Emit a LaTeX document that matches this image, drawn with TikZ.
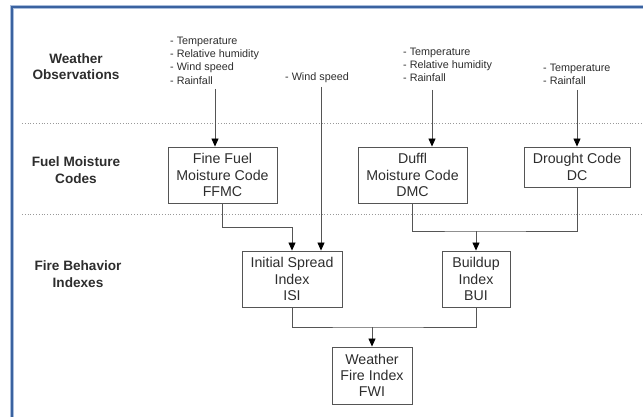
\documentclass[tikz,border=0pt]{standalone}
\usepackage{fontspec}
\setmainfont{Liberation Sans}
\usepackage{tikz}
\usetikzlibrary{arrows.meta}
\definecolor{framecol}{RGB}{58,98,160}
\definecolor{framelight}{RGB}{170,190,220}
\definecolor{txtcol}{RGB}{45,45,45}
\definecolor{linecol}{RGB}{85,85,85}

\tikzset{
  code/.style={draw=linecol, line width=0.9pt, align=center, inner sep=0pt,
    text=txtcol, font=\fontsize{14.2}{16.3}\selectfont},
  level/.style={align=center, text=txtcol, font=\fontsize{13.6}{16.5}\selectfont\bfseries},
  obs/.style={align=left, anchor=west, inner sep=0pt, text=txtcol,
    font=\fontsize{10.8}{13.3}\selectfont},
  link/.style={draw=linecol, line width=0.8pt},
  sep/.style={draw=gray!80, line width=0.8pt, dotted}
}

\begin{document}
\begin{tikzpicture}[x=1pt,y=-1pt,>={Triangle[width=7pt,length=8pt,color=black]}]
      \useasboundingbox (0,0) rectangle (643,417);
      % frame
      \draw[framelight, line width=3.2pt] (12,420) -- (12,7) -- (646,7);
      \draw[framecol, line width=1.8pt] (12,420) -- (12,7) -- (646,7);
      \draw[sep] (22,123) -- (643,123);
      \draw[sep] (22,214) -- (643,214);
      % rows
      \node[level] (lw) at (76,66.5) {Weather\\Observations};
      \node[level] (lf) at (76,170) {Fuel Moisture\\Codes};
      \node[level] (lb) at (78,274) {Fire Behavior\\Indexes};
      % inputs
      \node[obs] (in1) at (170,60.5) {- Temperature\\- Relative humidity\\- Wind speed\\- Rainfall};
      \node[obs] (in2) at (285,78) {- Wind speed};
      \node[obs] (in3) at (403,65) {- Temperature\\- Relative humidity\\- Rainfall};
      \node[obs] (in4) at (543,74.5) {- Temperature\\- Rainfall};
      % codes and indexes
      \node[code, minimum width=109pt, minimum height=56pt] (ffmc) at (222.5,175) {Fine Fuel\\Moisture Code\\FFMC};
      \node[code, minimum width=109pt, minimum height=56pt] (dmc) at (412.5,175) {Duffl\\Moisture Code\\DMC};
      \node[code, minimum width=106pt, minimum height=40pt] (dc) at (577,167) {Drought Code\\DC};
      \node[code, minimum width=100pt, minimum height=56pt] (isi) at (292,279) {Initial Spread\\Index\\ISI};
      \node[code, minimum width=68pt, minimum height=56pt] (bui) at (476,279) {Buildup\\Index\\BUI};
      \node[code, minimum width=80pt, minimum height=57pt] (fwi) at (372,375.5) {Weather\\Fire Index\\FWI};
      % arrows
      \coordinate (s1) at (215,89);
      \coordinate (s2) at (321,87);
      \coordinate (s3) at (432,90);
      \coordinate (s4) at (577,90);
      \coordinate (j2) at (476,231);
      \coordinate (j3) at (372,327);
      \draw[link,->] (s1) -- (s1 |- ffmc.north);
      \draw[link,->] (s3) -- (s3 |- dmc.north);
      \draw[link,->] (s4) -- (dc.north);
      \draw[link,->] (s2) -- (s2 |- isi.north);
      \draw[link,->] (ffmc.south) -- ++(0,24) -| (isi.north);
      \draw[link] (dmc.south) |- (j2) -| (dc.south);
      \draw[link,->] (j2) -- (bui.north);
      \draw[link] (isi.south) |- (j3) -| (bui.south);
      \draw[link,->] (j3) -- (fwi.north);
    \end{tikzpicture}
\end{document}
